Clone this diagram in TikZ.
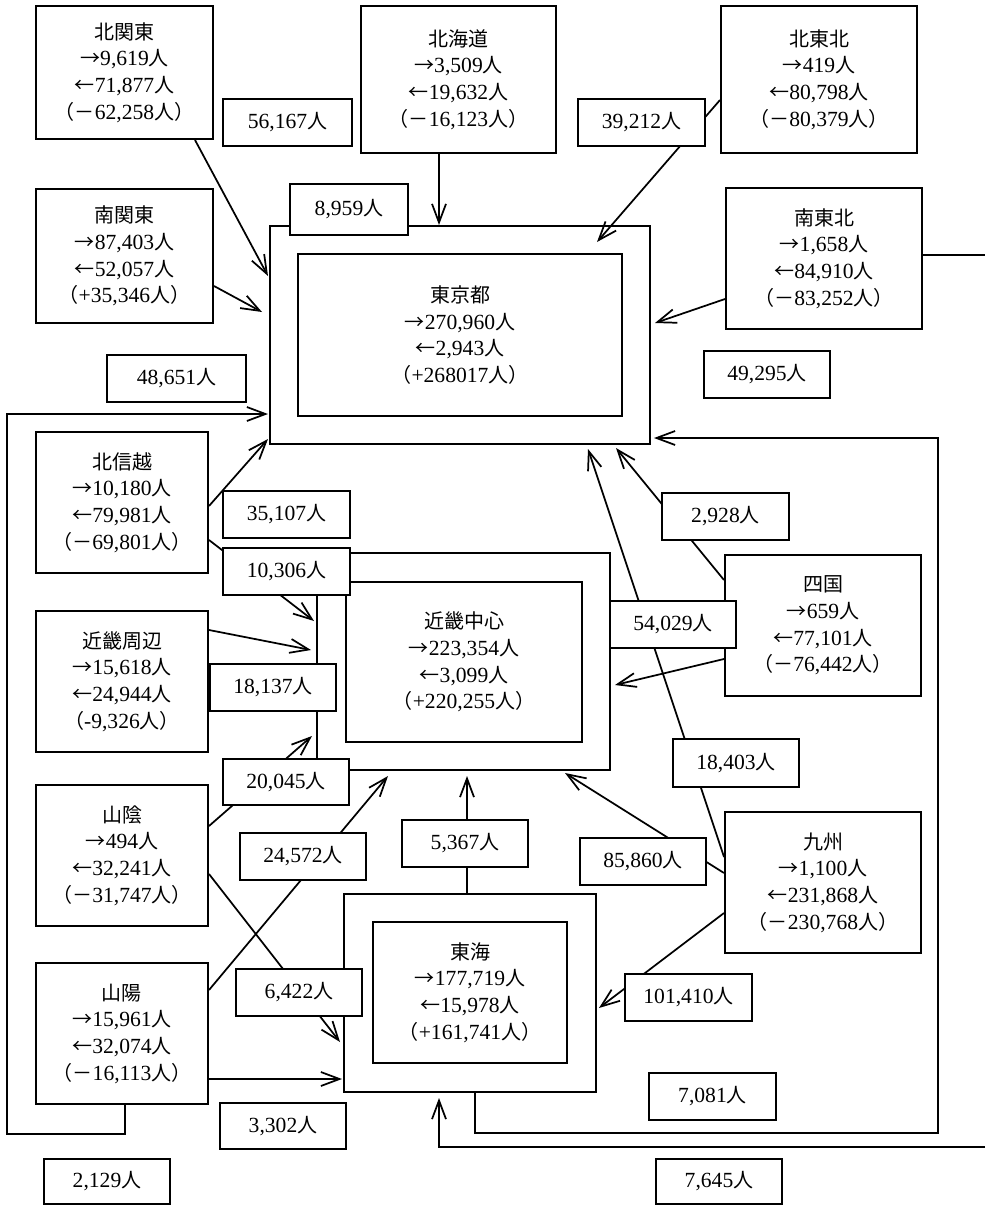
\documentclass[tikz,border=0pt]{standalone}
\usepackage{fontspec}
\setmainfont{Liberation Serif}[Scale=1.08]
\newfontfamily\jp{Noto Sans CJK JP}
\usetikzlibrary{arrows.meta}
\newcommand\J[1]{{\jp #1}}
\newcommand\RA{\J{→}}
\newcommand\LA{\J{←}}
\newcommand\NIN{\J{人}}
\newcommand\MN{\J{（－}}
\newcommand\PL{\J{（}+}
\newcommand\CL{\J{人）}}
\tikzset{
  region/.style={draw, line width=1.5pt, inner sep=0pt, align=center},
  lab/.style={draw, fill=white, line width=1.5pt, inner sep=0pt, align=center},
  conn/.style={line width=1.3pt},
  arr/.style={conn, -{Straight Barb[length=14pt,width=10.5pt]}},
}
% box by corner pixels: [style]{name}{x1}{y1}{x2}{y2}{text}
\newcommand\bx[7][region]{\node[#1, minimum width={(#5-#3)*0.75pt}, minimum height={(#6-#4)*0.75pt}] (#2) at ({(#3+#5)/2},{(#4+#6)/2}) {#7};}
\begin{document}
\begin{tikzpicture}[x=0.75pt,y=-0.75pt,font=\fontsize{15pt}{20pt}\selectfont]
\useasboundingbox (0,0) rectangle (985,1206);
% region boxes
\bx{kk}{36}{6}{213}{139}{\J{北関東}\\\RA9,619\NIN\\\LA71,877\NIN\\\MN62,258\CL}
\bx{hk}{361}{6}{556}{153}{\J{北海道}\\\RA3,509\NIN\\\LA19,632\NIN\\\MN16,123\CL}
\bx{kt}{721}{6}{917}{153}{\J{北東北}\\\RA419\NIN\\\LA80,798\NIN\\\MN80,379\CL}
\bx{mk}{36}{189}{213}{323}{\J{南関東}\\\RA87,403\NIN\\\LA52,057\NIN\\\PL35,346\CL}
\bx{mt}{726}{188}{922}{329}{\J{南東北}\\\RA1,658\NIN\\\LA84,910\NIN\\\MN83,252\CL}
\bx{tko}{270}{226}{650}{444}{}
\bx{tki}{298}{254}{622}{416}{\J{東京都}\\\RA270,960\NIN\\\LA2,943\NIN\\\PL268017\CL}
\bx{hs}{36}{432}{208}{573}{\J{北信越}\\\RA10,180\NIN\\\LA79,981\NIN\\\MN69,801\CL}
\bx{ksh}{36}{611}{208}{752}{\J{近畿周辺}\\\RA15,618\NIN\\\LA24,944\NIN\\\J{（}-9,326\CL}
\bx{kno}{317}{553}{610}{770}{}
\bx{kni}{346}{582}{582}{742}{\J{近畿中心}\\\RA223,354\NIN\\\LA3,099\NIN\\\PL220,255\CL}
\bx{sk}{725}{555}{921}{696}{\J{四国}\\\RA659\NIN\\\LA77,101\NIN\\\MN76,442\CL}
\bx{sin}{36}{785}{208}{926}{\J{山陰}\\\RA494\NIN\\\LA32,241\NIN\\\MN31,747\CL}
\bx{sy}{36}{963}{208}{1104}{\J{山陽}\\\RA15,961\NIN\\\LA32,074\NIN\\\MN16,113\CL}
\bx{kyu}{725}{812}{921}{953}{\J{九州}\\\RA1,100\NIN\\\LA231,868\NIN\\\MN230,768\CL}
\bx{tho}{344}{894}{596}{1092}{}
\bx{thi}{373}{922}{567}{1063}{\J{東海}\\\RA177,719\NIN\\\LA15,978\NIN\\\PL161,741\CL}
% free ends at the right edge
\coordinate (rE1) at (985,255);
\coordinate (rE2) at (985,1147);
% connectors
\draw[arr] ([shift={(70.5,0)}]kk.south) -- ([shift={(-1,-59)}]tko.west);
\draw[arr] ([shift={(-19.5,0)}]hk.south) -- ([shift={(-21,0)}]tko.north);
\draw[arr] ([shift={(0,20.5)}]kt.west) -- ([shift={(-54,17)}]tko.north east);
\draw[arr] ([shift={(0,30)}]mk.east) -- ([shift={(-7,-23)}]tko.west);
\draw[arr] ([shift={(0,40.5)}]mt.west) -- ([shift={(4,-12)}]tko.east);
\draw[conn] (mt.east |- rE1) -- (rE1);
\draw[arr] ([shift={(3,0)}]sy.south) |- (7,1134) |- ([shift={(-1,79)}]tko.west);
\draw[arr] ([shift={(5,0)}]tho.south) |- (938,1133) |- ([shift={(3,-7)}]tko.south east);
\draw[arr] (rE2) -| ([shift={(-31,5)}]tho.south);
\draw[arr] ([shift={(0,3.5)}]hs.east) -- ([shift={(-1,-6)}]tko.south west);
\draw[arr] ([shift={(0,37.5)}]hs.east) -- ([shift={(-2,-40.5)}]kno.west);
\draw[arr] ([shift={(0,-51.5)}]ksh.east) -- ([shift={(-5,-11.5)}]kno.west);
\draw[arr] ([shift={(0,-29.5)}]sin.east) -- ([shift={(-4,74.5)}]kno.west);
\draw[arr] ([shift={(0,-43.5)}]sy.east) -- ([shift={(-75.5,5)}]kno.south);
\draw[arr] ([shift={(-3,0)}]tho.north) -- ([shift={(3.5,5)}]kno.south);
\draw[arr] ([shift={(0,-9.5)}]kyu.west) -- ([shift={(101.5,2)}]kno.south);
\draw[arr] ([shift={(0,33.5)}]sk.west) -- ([shift={(4,23.5)}]kno.east);
\draw[arr] ([shift={(0,-45.5)}]sk.west) -- ([shift={(156,3)}]tko.south);
\draw[arr] ([shift={(0,-25.5)}]kyu.west) -- ([shift={(128,4)}]tko.south);
\draw[arr] ([shift={(0,18.5)}]sin.east) -- ([shift={(-3,49)}]tho.west);
\draw[arr] ([shift={(0,45.5)}]sy.east) -- ([shift={(-1,86)}]tho.west);
\draw[arr] ([shift={(0,30.5)}]kyu.west) -- ([shift={(2,15)}]tho.east);
% labels
\bx[lab]{l56167}{223}{99}{352}{146}{56,167\NIN}
\bx[lab]{l39212}{578}{99}{705}{146}{39,212\NIN}
\bx[lab]{l8959}{290}{184}{408}{235}{8,959\NIN}
\bx[lab]{l48651}{107}{355}{246}{402}{48,651\NIN}
\bx[lab]{l49295}{704}{351}{830}{398}{49,295\NIN}
\bx[lab]{l35107}{223}{491}{350}{538}{35,107\NIN}
\bx[lab]{l10306}{223}{548}{350}{595}{10,306\NIN}
\bx[lab]{l2928}{662}{493}{789}{540}{2,928\NIN}
\bx[lab]{l54029}{610}{601}{736}{648}{54,029\NIN}
\bx[lab]{l18137}{210}{664}{336}{711}{18,137\NIN}
\bx[lab]{l20045}{223}{759}{349}{805}{20,045\NIN}
\bx[lab]{l18403}{673}{739}{799}{787}{18,403\NIN}
\bx[lab]{l24572}{240}{833}{366}{880}{24,572\NIN}
\bx[lab]{l5367}{402}{820}{528}{867}{5,367\NIN}
\bx[lab]{l85860}{580}{838}{706}{885}{85,860\NIN}
\bx[lab]{l6422}{236}{969}{362}{1016}{6,422\NIN}
\bx[lab]{l101410}{625}{974}{752}{1021}{101,410\NIN}
\bx[lab]{l7081}{649}{1073}{776}{1120}{7,081\NIN}
\bx[lab]{l3302}{220}{1103}{346}{1149}{3,302\NIN}
\bx[lab]{l2129}{44}{1159}{170}{1204}{2,129\NIN}
\bx[lab]{l7645}{656}{1159}{782}{1204}{7,645\NIN}
\end{tikzpicture}
\end{document}
